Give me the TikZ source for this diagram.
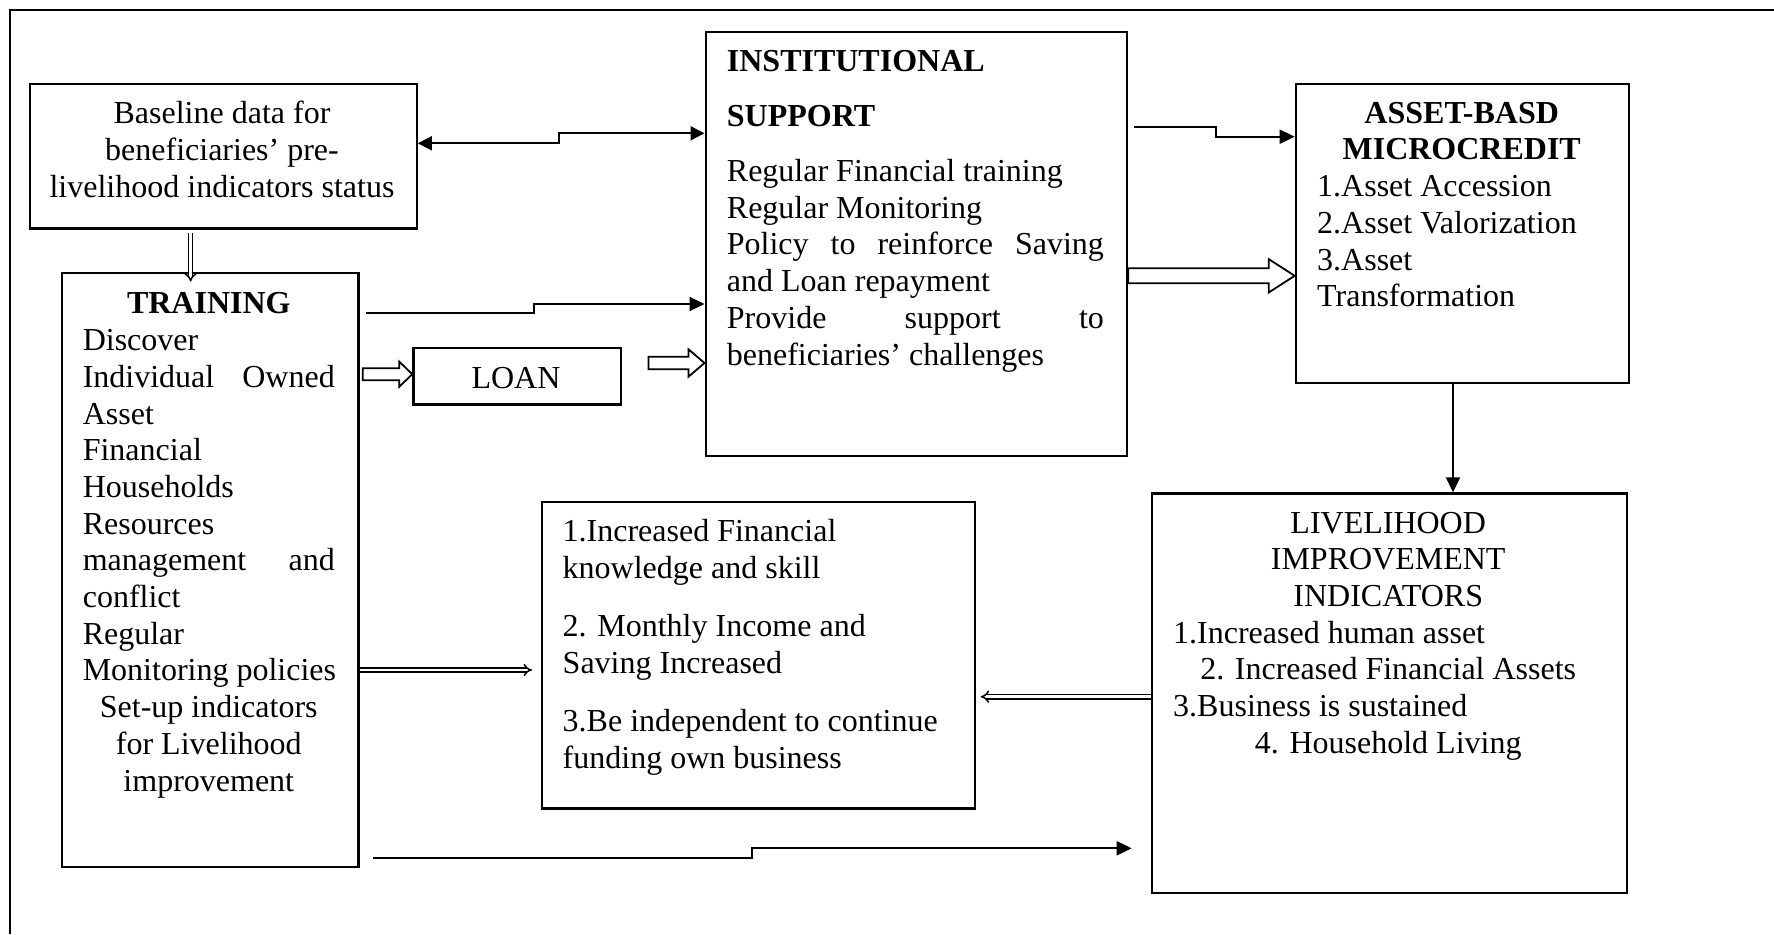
\documentclass[tikz,border=0pt]{standalone}
\usepackage{fontspec}
\setmainfont{Liberation Serif}
\usetikzlibrary{arrows.meta,calc}

% outlined block arrow from #1 to tip #2: shaft half-height #3, head half-height #4, head length #5
\newcommand\BlockArrow[5]{%
  \draw[blk] ($(#1)+(0,#3)$) -- ($(#2)+(-#5,#3)$) -- ($(#2)+(-#5,#4)$) -- (#2)
    -- ($(#2)+(-#5,-#4)$) -- ($(#2)+(-#5,-#3)$) -- ($(#1)+(0,-#3)$) -- cycle;}

\begin{document}
\begin{tikzpicture}[x=1pt,y=-1pt,
  box/.style={draw, line width=2.2pt, inner sep=0pt, anchor=north west},
  txt/.style={inner sep=0pt, font={\fontsize{32pt}{36.7pt}\selectfont}},
  arr/.style={line width=2pt, -{Triangle[length=15pt,width=14pt]}},
  biarr/.style={line width=2pt, {Triangle[length=14pt,width=14pt]}-{Triangle[length=14pt,width=14pt]}},
  dbl/.style={double, double distance=2.6pt, line width=1.5pt, -{Implies}},
  blk/.style={draw, fill=white, line width=1.8pt, line join=miter}]

\useasboundingbox (0,0) rectangle (1774,934);
% outer frame (top and left edges)
\draw[line width=2pt] (10,934) -- (10,10) -- (1774,10);

% boxes
\node[box, minimum width=387.1pt, minimum height=144.6pt] (base)  at (28.5,82.7) {};
\node[box, minimum width=296.2pt, minimum height=594.3pt] (train) at (61.1,271.7) {};
\node[box, minimum width=207.5pt, minimum height=56.6pt]  (loan)  at (412.3,346.7) {};
\node[box, minimum width=421.5pt, minimum height=424.3pt] (inst)  at (704.5,30.7) {};
\node[box, minimum width=333.1pt, minimum height=299pt]   (asset) at (1294.7,82.7) {};
\node[box, minimum width=433pt,   minimum height=306.6pt] (outc)  at (541,500.7) {};
\node[box, minimum width=475pt,   minimum height=399.4pt] (live)  at (1150.7,492.3) {};

% texts (each placed by the baseline of its last line)
\node[txt, anchor=base, align=center] (base-t) at (222,197.3)
  {Baseline data for\\beneficiaries’ pre-\\livelihood indicators status};

\node[txt, anchor=base west, align=left] (train-t) at (82.6,791)
  {\makebox[252pt][c]{\bfseries TRAINING}\\
   Discover\\
   \makebox[252pt][s]{Individual Owned}\\
   Asset\\
   Financial\\
   Households\\
   Resources\\
   \makebox[252pt][s]{management and}\\
   conflict\\
   Regular\\
   Monitoring policies\\
   \makebox[252pt][c]{Set-up indicators}\\
   \makebox[252pt][c]{for Livelihood}\\
   \makebox[252pt][c]{improvement}};

\node[txt, anchor=base] (loan-t) at (516,388.3) {LOAN};

\node[txt, anchor=base west, align=left] (inst-t) at (726.7,365)
  {\textbf{INSTITUTIONAL}\\[18.3pt]
   \textbf{SUPPORT}\\[18.3pt]
   Regular Financial training\\
   Regular Monitoring\\
   \makebox[377pt][s]{Policy to reinforce Saving}\\
   and Loan repayment\\
   \makebox[377pt][s]{Provide support to}\\
   beneficiaries’ challenges};

\node[txt, anchor=base west, align=left] (asset-t) at (1317,306.7)
  {\makebox[289pt][c]{\bfseries ASSET-BASD}\\
   \makebox[289pt][c]{\bfseries MICROCREDIT}\\
   1.Asset Accession\\
   2.Asset Valorization\\
   3.Asset\\
   Transformation};

\node[txt, anchor=base west, align=left] (outc-t) at (562.5,768.3)
  {1.Increased Financial\\
   knowledge and skill\\[21.7pt]
   2. Monthly Income and\\
   Saving Increased\\[21.7pt]
   3.Be independent to continue\\
   funding own business};

\node[txt, anchor=base west, align=left] (live-t) at (1173,753.3)
  {\makebox[430pt][c]{LIVELIHOOD}\\
   \makebox[430pt][c]{IMPROVEMENT}\\
   \makebox[430pt][c]{INDICATORS}\\
   1.Increased human asset\\
   \makebox[430pt][c]{2. Increased Financial Assets}\\
   3.Business is sustained\\
   \makebox[430pt][c]{4. Household Living}};

% stepped connectors
\coordinate (s1) at (559,143.3);
\coordinate (s2) at (559,133.3);
\draw[biarr] (base.east |- s1) -- (s1) -- (s2) -- (inst.west |- s2);

\coordinate (t2) at (533.6,313.3);
\coordinate (t3) at (533.6,304);
\draw[arr, shorten <=6.4pt] (train.east |- t2) -- (t2) -- (t3) -- (inst.west |- t3);

\coordinate (a1) at (1216,126.7);
\coordinate (a2) at (1216,136.7);
\draw[arr, shorten <=6pt] (inst.east |- a1) -- (a1) -- (a2) -- (asset.west |- a2);

\coordinate (v) at (1453,0);
\draw[arr] (asset.south -| v) -- (live.north -| v);

\coordinate (b1) at (752,858.3);
\coordinate (b2) at (752,848.3);
\draw[arr, shorten <=13.7pt, shorten >=19pt] (train.east |- b1) -- (b1) -- (b2) -- (live.west |- b2);

% double-line connectors
\coordinate (d) at (190.6,0);
\draw[dbl, shorten <=3pt, shorten >=-10pt] (base.south -| d) -- (train.north -| d);
\coordinate (e) at (0,670);
\draw[dbl, shorten >=9pt] (train.east |- e) -- (outc.west |- e);
\coordinate (f) at (0,696.7);
\draw[dbl, shorten >=4.5pt] (live.west |- f) -- (outc.east |- f);

% block arrows
\coordinate (k1) at (362.8,374.2);
\coordinate (k2) at (loan.west |- k1);
\BlockArrow{k1}{k2}{6}{12.5}{13}
\coordinate (m1) at (648.4,363);
\coordinate (m2) at (inst.west |- m1);
\BlockArrow{m1}{m2}{6.3}{13.7}{16}
\coordinate (n0) at (0,275.8);
\coordinate (n1) at (inst.east |- n0);
\coordinate (n2) at (asset.west |- n0);
\BlockArrow{n1}{n2}{7.5}{16.7}{26}
\end{tikzpicture}
\end{document}
